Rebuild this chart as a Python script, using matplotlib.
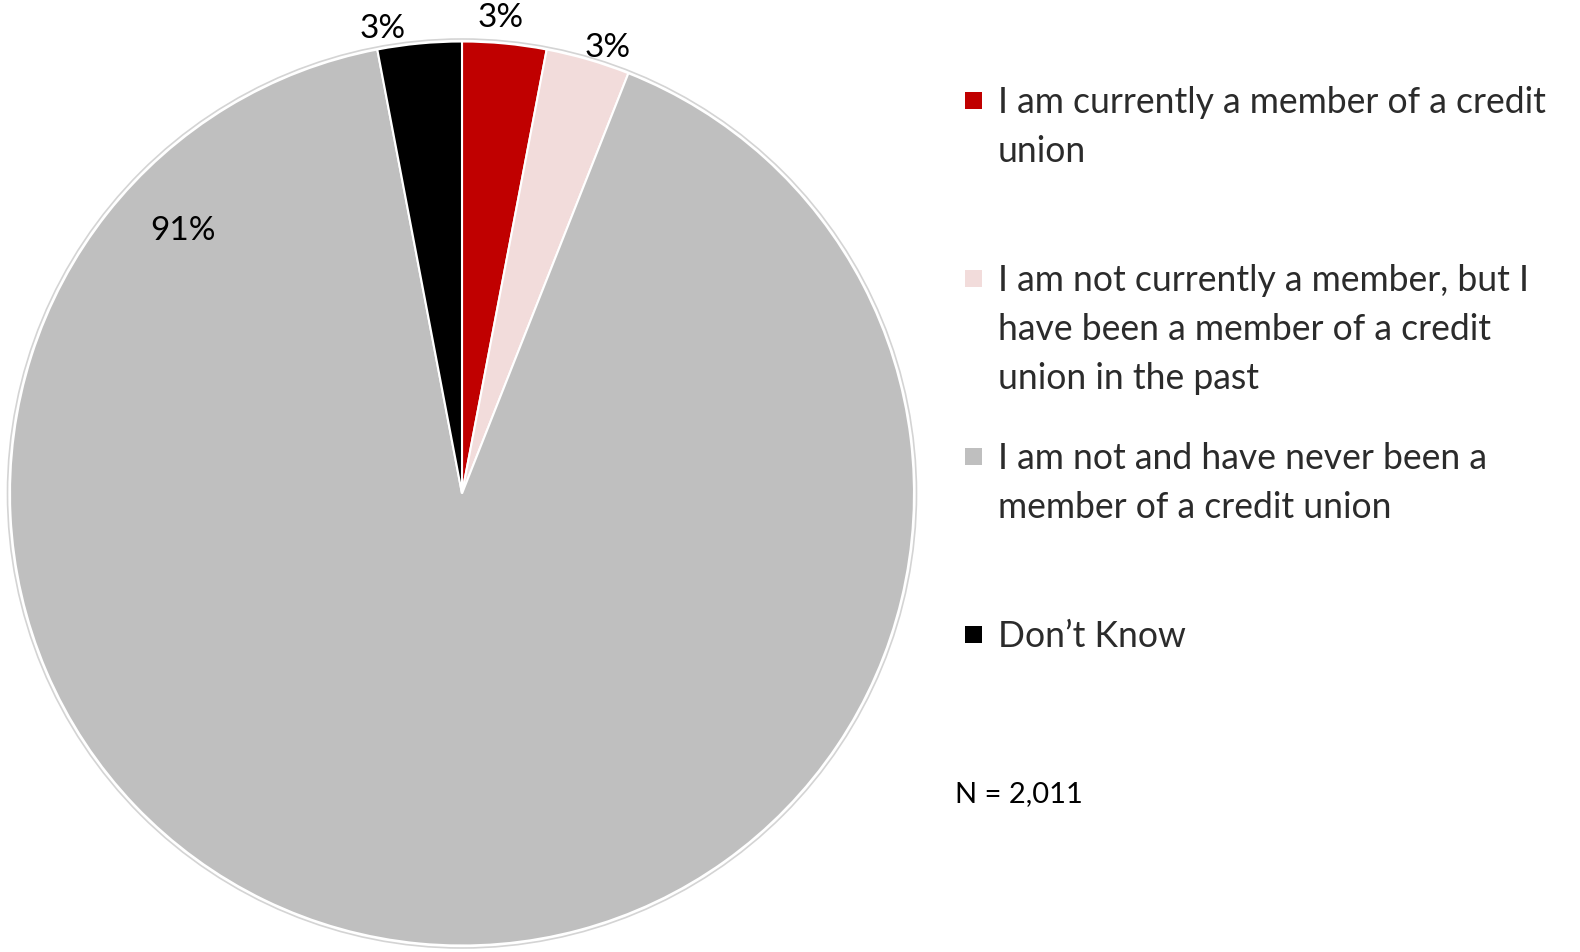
import textwrap
import matplotlib
matplotlib.use("Agg")
import matplotlib.pyplot as plt
from matplotlib.patches import Rectangle, Circle

# Survey answers and their shares (percent)
categories = [
    "I am currently a member of a credit union",
    "I am not currently a member, but I have been a member of a credit union in the past",
    "I am not and have never been a member of a credit union",
    "Don\u2019t Know",
]
shares = [3, 3, 91, 3]
colors = ["#C00000", "#F2DCDB", "#BFBFBF", "#000000"]
sample_note = "N = 2,011"

# Canvas in pixel units (y measured downward from the top edge)
W, H = 1580, 953
FONT = ["Lato", "DejaVu Sans"]

fig = plt.figure(figsize=(W / 100, H / 100), dpi=100)
ax = fig.add_axes([0, 0, 1, 1])


def fy(y):
    return H - y


center = (462, fy(494.5))
radius = 452

wedges, _ = ax.pie(
    shares,
    colors=colors,
    startangle=90,
    counterclock=False,
    radius=radius,
    center=center,
    wedgeprops=dict(edgecolor="white", linewidth=1.5),
)
ax.add_patch(Circle(center, radius + 2.5, fill=False, edgecolor="#d4d4d4", linewidth=1.2))

ax.set_xlim(0, W)
ax.set_ylim(0, H)
ax.set_aspect("auto")
ax.axis("off")

# Percentage labels next to each slice
label_pos = [(501, 18), (608, 48), (183, 231), (383, 29)]
for v, (x, y) in zip(shares, label_pos):
    ax.text(x, fy(y), f"{v}%", ha="center", va="center", fontsize=24,
            family=FONT, color="black")

# Legend: one slot per answer, wrapped text, square marker on the first line
slot_top = 113
slot_step = 178
line_gap = 49
for i, (cat, col) in enumerate(zip(categories, colors)):
    base = slot_top + i * slot_step
    ax.add_patch(Rectangle((965, fy(base - 3)), 17, 17, facecolor=col, edgecolor="none"))
    for j, line in enumerate(textwrap.wrap(cat, width=35)):
        ax.text(998, fy(base + j * line_gap), line, ha="left", va="baseline",
                fontsize=25.6, family=FONT, color="#2b2b2b")

ax.text(955, fy(794), sample_note, ha="left", va="center", fontsize=21,
        family=FONT, color="black")

fig.savefig("out.png", dpi=100, facecolor="white")
